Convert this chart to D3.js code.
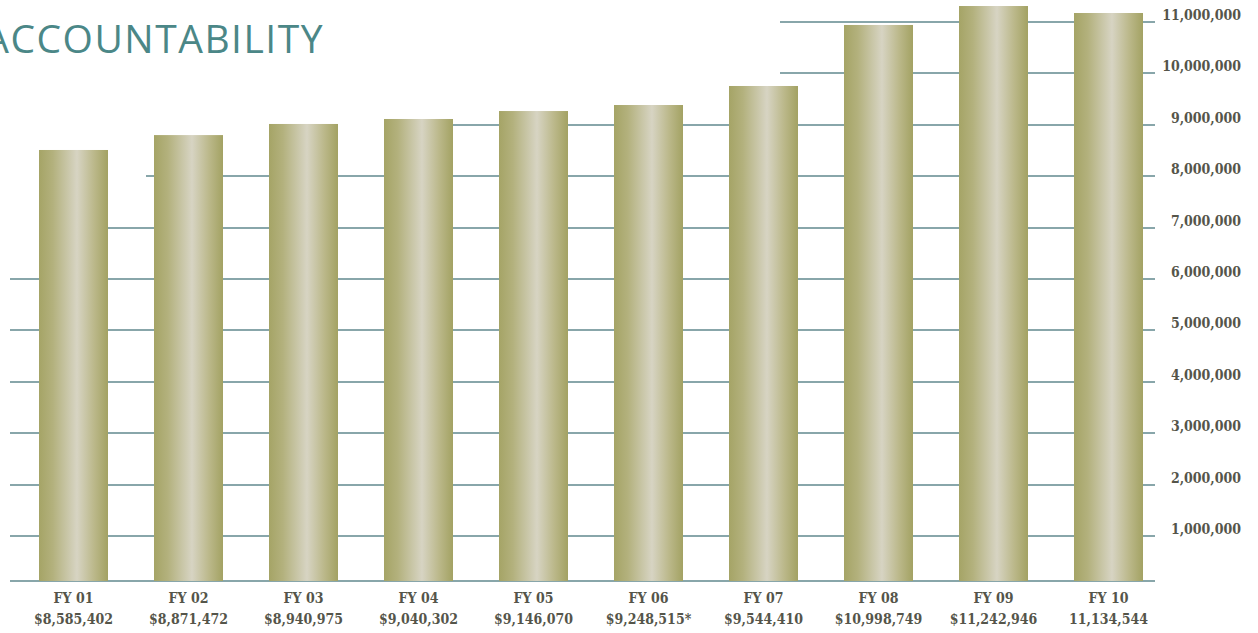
<!DOCTYPE html>
<html>
<head>
<meta charset="utf-8">
<script src="https://cdn.jsdelivr.net/npm/d3@7"></script>
<style>
  html, body { margin: 0; padding: 0; background: #ffffff; overflow: hidden; }
  svg { display: block; }
  .lbl { font-family: "DejaVu Serif Condensed", "DejaVu Serif", serif; font-stretch: condensed; font-weight: bold; font-size: 14px; fill: #55554a; }
</style>
</head>
<body>
<svg id="chart" width="1258" height="633"></svg>
<script>
// ---- data ----
const categories = ["FY 01", "FY 02", "FY 03", "FY 04", "FY 05", "FY 06", "FY 07", "FY 08", "FY 09", "FY 10"];
// bar heights as drawn in the picture
const barValues = [8510000, 8800000, 9016000, 9113000, 9268000, 9385000, 9755000, 10942000, 11311000, 11175000];
// amount labels printed under each bar
const amountLabels = ["$8,585,402", "$8,871,472", "$8,940,975", "$9,040,302", "$9,146,070", "$9,248,515*", "$9,544,410", "$10,998,749", "$11,242,946", "11,134,544"];
const tickValues = [1000000, 2000000, 3000000, 4000000, 5000000, 6000000, 7000000, 8000000, 9000000, 10000000, 11000000];
const axisFloor = 125000;
const titleText = "ACCOUNTABILITY";

// ---- layout ----
const svg = d3.select("#chart");

const x = d3.scaleBand().domain(categories).range([16, 1166]).paddingInner(0.4).paddingOuter(0.2);
const y = d3.scaleLinear().domain([0, 11000000]).range([587.4, 22]);

const gridColor = "#88a6aa";
const gridRight = 1155;
// where each gridline starts on the left
function gridStart(v) {
  if (v >= 10000000) return 780;
  if (v >= 9000000) return 395;
  if (v >= 8000000) return 146;
  if (v >= 7000000) return 70;
  return 10;
}

// gradient for bars
const defs = svg.append("defs");
const grad = defs.append("linearGradient").attr("id", "barGrad").attr("x1", "0%").attr("x2", "100%").attr("y1", "0%").attr("y2", "0%");
grad.append("stop").attr("offset", "0%").attr("stop-color", "#a5a466");
grad.append("stop").attr("offset", "20%").attr("stop-color", "#b3b17d");
grad.append("stop").attr("offset", "55%").attr("stop-color", "#d7d4c3");
grad.append("stop").attr("offset", "80%").attr("stop-color", "#bbb88a");
grad.append("stop").attr("offset", "100%").attr("stop-color", "#a3a263");

// gridlines
svg.append("g").selectAll("line").data(tickValues).join("line")
  .attr("x1", d => gridStart(d)).attr("x2", gridRight)
  .attr("y1", d => Math.round(y(d))).attr("y2", d => Math.round(y(d)))
  .attr("stroke", gridColor).attr("stroke-width", 2);

// baseline
svg.append("line")
  .attr("x1", 10).attr("x2", gridRight)
  .attr("y1", Math.round(y(axisFloor))).attr("y2", Math.round(y(axisFloor)))
  .attr("stroke", gridColor).attr("stroke-width", 2);

// bars
svg.append("g").selectAll("rect").data(categories).join("rect")
  .attr("x", d => x(d))
  .attr("width", x.bandwidth())
  .attr("y", (d, i) => y(barValues[i]))
  .attr("height", (d, i) => y(axisFloor) - y(barValues[i]))
  .attr("fill", "url(#barGrad)");

// y tick labels on the right
const fmt = d3.format(",");
svg.append("g").selectAll("text").data(tickValues).join("text")
  .attr("class", "lbl")
  .attr("x", 1241)
  .attr("y", d => y(d) - 7)
  .attr("text-anchor", "end")
  .attr("dominant-baseline", "central")
  .text(d => fmt(d));

// x labels
const xl = svg.append("g").selectAll("g").data(categories).join("g")
  .attr("transform", d => `translate(${x(d) + x.bandwidth() / 2},0)`);
xl.append("text").attr("class", "lbl").attr("text-anchor", "middle")
  .attr("y", 598).attr("dominant-baseline", "central").text(d => d);
xl.append("text").attr("class", "lbl").attr("text-anchor", "middle")
  .attr("y", 619).attr("dominant-baseline", "central").text((d, i) => amountLabels[i]);

// title (cut off at the left edge, as in the reference)
svg.append("text")
  .attr("x", 324).attr("y", 53)
  .attr("text-anchor", "end")
  .attr("font-family", "'Open Sans', sans-serif")
  .attr("font-size", 39)
  .attr("letter-spacing", 1.5)
  .attr("fill", "#4b8787")
  .text(titleText);
</script>
</body>
</html>
